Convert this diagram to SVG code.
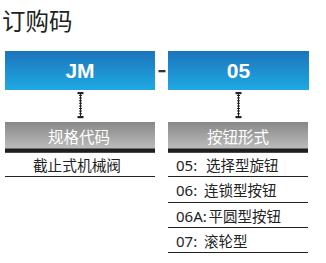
<svg xmlns="http://www.w3.org/2000/svg" width="326" height="263" viewBox="0 0 326 263">
<defs>
<linearGradient id="blue" x1="0" y1="0" x2="0" y2="1">
<stop offset="0" stop-color="#1c74bb"/>
<stop offset="1" stop-color="#1fa9e3"/>
</linearGradient>
<linearGradient id="gray" x1="0" y1="0" x2="0" y2="1">
<stop offset="0" stop-color="#878787"/>
<stop offset="1" stop-color="#bdbdbd"/>
</linearGradient>
<g id="conn">
<rect x="-3" y="0" width="6" height="2.2" fill="#222"/>
<rect x="-3" y="24" width="6" height="2.2" fill="#222"/>
<line x1="0" y1="2" x2="0" y2="24" stroke="#222" stroke-width="1"/>
<line x1="0" y1="3" x2="0" y2="23" stroke="#222" stroke-width="3" stroke-dasharray="1 1.6"/>
</g>
</defs>
<style>
.cjk{font-family:"Noto Sans CJK SC","Noto Sans",sans-serif}
.code{font-family:"Liberation Sans",Arial,sans-serif;font-weight:bold;font-size:21px;fill:#fff;text-anchor:middle}
.hdr{font-family:"Noto Sans CJK SC",sans-serif;font-size:15.5px;fill:#fff;text-anchor:middle}
.item{font-family:"Noto Sans","Noto Sans CJK SC",sans-serif;font-size:15px;fill:#222}
.itc{font-family:"Noto Sans CJK SC",sans-serif;font-size:14.5px}
.rule{stroke:#222;stroke-width:1}
</style>
<rect width="326" height="263" fill="#fff"/>
<text x="2" y="30" class="cjk" font-size="23.5" fill="#222">订购码</text>

<g id="jm">
<rect x="5" y="51" width="150" height="39" fill="url(#blue)"/>
<text x="80" y="78" class="code">JM</text>
</g>
<g id="dash"><rect x="158.5" y="70" width="7" height="2.3" fill="#333"/></g>
<g id="code05">
<rect x="168" y="51" width="141" height="39" fill="url(#blue)"/>
<text x="238.5" y="78" class="code">05</text>
</g>

<g id="connectors">
<use href="#conn" x="80.5" y="92"/>
<use href="#conn" x="238.5" y="92"/>
</g>

<g id="spec">
<rect x="5" y="122" width="150" height="27" fill="url(#gray)"/>
<rect x="5" y="148.5" width="150" height="4.3" fill="#1e1e1e"/>
<text x="79" y="143" class="hdr">规格代码</text>
<text x="77" y="170.5" class="cjk" font-size="14.7" fill="#222" text-anchor="middle">截止式机械阀</text>
<line x1="5" y1="176.5" x2="155" y2="176.5" class="rule"/>
</g>

<g id="button">
<rect x="168" y="122" width="140" height="27" fill="url(#gray)"/>
<rect x="168" y="148.5" width="140" height="4.3" fill="#1e1e1e"/>
<text x="238" y="143" class="hdr">按钮形式</text>
<text x="176" y="170.5" class="item">05:<tspan x="206" class="itc">选择型旋钮</tspan></text>
<line x1="168" y1="176.5" x2="308" y2="176.5" class="rule"/>
<text x="176" y="196" class="item">06:<tspan x="204" class="itc">连锁型按钮</tspan></text>
<line x1="168" y1="202.5" x2="308" y2="202.5" class="rule"/>
<text x="176" y="221.5" class="item">06A:<tspan x="208.5" class="itc">平圆型按钮</tspan></text>
<line x1="168" y1="227.5" x2="308" y2="227.5" class="rule"/>
<text x="176" y="246.5" class="item">07:<tspan x="204" class="itc">滚轮型</tspan></text>
<line x1="168" y1="252.5" x2="308" y2="252.5" class="rule"/>
</g>
</svg>
